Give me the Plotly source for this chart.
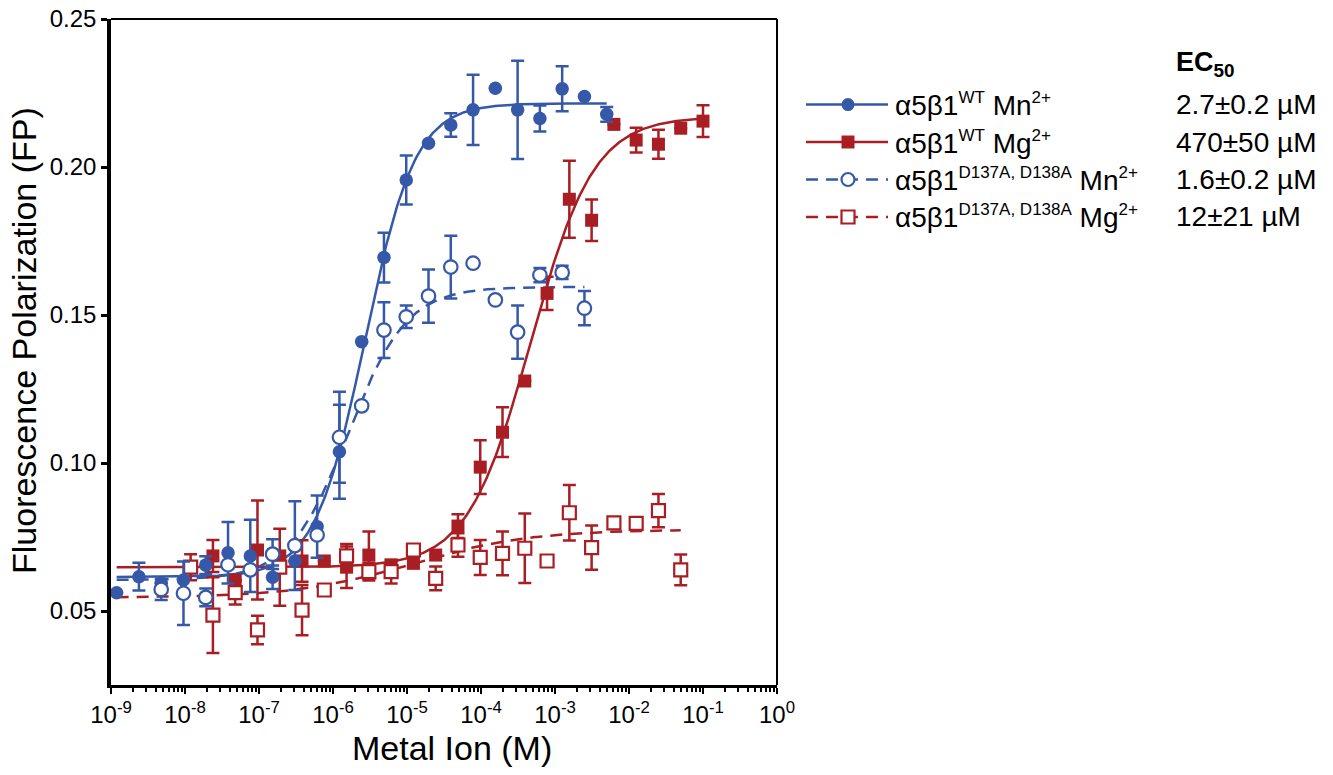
import numpy as np
import plotly.graph_objects as go

BLUE = "#3559A8"
RED = "#A81E23"
FONT = "Liberation Sans, Arial, sans-serif"

# ---------------- data (concentration in M, FP values, SEM) ----------------
conc_wt_mn = [1.192e-9, 2.384e-9, 4.768e-9, 9.537e-9, 1.907e-8, 3.815e-8, 7.629e-8,
              1.526e-7, 3.052e-7, 6.104e-7, 1.221e-6, 2.441e-6, 4.883e-6, 9.766e-6,
              1.953e-5, 3.906e-5, 7.8125e-5, 1.5625e-4, 3.125e-4, 6.25e-4, 1.25e-3,
              2.5e-3, 5.0e-3]
fp_wt_mn = [0.0562, 0.0616, 0.0595, 0.0605, 0.0655, 0.0697, 0.0686, 0.0614, 0.0669,
            0.0785, 0.1038, 0.1410, 0.1694, 0.1956, 0.2080, 0.2142, 0.2193, 0.2266,
            0.2193, 0.2164, 0.2264, 0.2238, 0.2178]
err_wt_mn = [None, 0.0047, None, None, 0.0030, 0.0104, 0.0122, 0.0040, None,
             0.0105, 0.0159, None, 0.0084, 0.0083, None, 0.0040, 0.0119, None,
             0.0166, 0.0044, 0.0076, None, 0.0025]

conc_d_mn = [4.768e-9, 9.537e-9, 1.907e-8, 3.815e-8, 7.629e-8, 1.526e-7, 3.052e-7,
             6.104e-7, 1.221e-6, 2.441e-6, 4.883e-6, 9.766e-6, 1.953e-5, 3.906e-5,
             7.8125e-5, 1.5625e-4, 3.125e-4, 6.25e-4, 1.25e-3, 2.5e-3]
fp_d_mn = [0.0573, 0.0560, 0.0546, 0.0656, 0.0639, 0.0692, 0.0721, 0.0757, 0.1087,
           0.1193, 0.1449, 0.1494, 0.1564, 0.1662, 0.1675, 0.1551, 0.1442, 0.1635,
           0.1644, 0.1523]
err_d_mn = [0.0036, 0.0107, 0.0030, None, None, 0.0050, 0.0150, None, 0.0154,
            None, 0.0094, 0.0038, 0.0090, 0.0106, None, None, 0.0090, 0.0024,
            0.0022, 0.0058]

conc_wt_mg = [1.192e-8, 2.384e-8, 4.768e-8, 9.537e-8, 1.907e-7, 3.815e-7, 7.629e-7,
              1.526e-6, 3.052e-6, 6.104e-6, 1.221e-5, 2.441e-5, 4.883e-5, 9.766e-5,
              1.953e-4, 3.906e-4, 7.8125e-4, 1.5625e-3, 3.125e-3, 6.25e-3, 1.25e-2,
              2.5e-2, 5.0e-2, 1.0e-1]
fp_wt_mg = [0.0648, 0.0686, 0.0605, 0.0706, 0.0686, 0.0669, 0.0669, 0.0648, 0.0689,
            0.0655, 0.0661, 0.0689, 0.0787, 0.0986, 0.1104, 0.1277, 0.1573, 0.1891,
            0.1820, 0.2144, 0.2091, 0.2077, 0.2131, 0.2155]
err_wt_mg = [None, 0.0054, None, 0.0167, None, 0.0070, None, 0.0070, 0.0080,
             None, None, None, 0.0040, 0.0091, 0.0084, None, 0.0056, 0.0130,
             0.0070, None, 0.0042, 0.0049, None, 0.0054]

conc_d_mg = [1.192e-8, 2.384e-8, 4.768e-8, 9.537e-8, 1.907e-7, 3.815e-7, 7.629e-7,
             1.526e-6, 3.052e-6, 6.104e-6, 1.221e-5, 2.441e-5, 4.883e-5, 9.766e-5,
             1.953e-4, 3.906e-4, 7.8125e-4, 1.5625e-3, 3.125e-3, 6.25e-3, 1.25e-2,
             2.5e-2, 5.0e-2]
fp_d_mg = [0.0648, 0.0486, 0.0562, 0.0436, 0.0648, 0.0503, 0.0571, 0.0686, 0.0633,
           0.0633, 0.0706, 0.0610, 0.0723, 0.0681, 0.0695, 0.0712, 0.0669, 0.0832,
           0.0714, 0.0798, 0.0796, 0.0839, 0.0639]
err_d_mg = [0.0044, 0.0128, 0.0040, 0.0048, 0.0130, 0.0085, None, 0.0040, 0.0030,
            0.0040, None, 0.0040, 0.0040, 0.0059, 0.0074, 0.0117, None, 0.0094,
            0.0075, None, None, 0.0056, 0.0052]

# fitted dose-response parameters (bottom, top, EC50 [M], Hill slope, curve end [M])
fit_wt_mn = (0.0615, 0.2215, 2.7e-6, 1.28, 5.0e-3)
fit_wt_mg = (0.0648, 0.2170, 4.7e-4, 1.02, 1.0e-1)
fit_d_mn = (0.0605, 0.1595, 1.6e-6, 1.10, 2.5e-3)
fit_d_mg = (0.0545, 0.0775, 1.2e-5, 0.55, 5.0e-2)
curve_start = 1.192e-9

SUP = "<sup><span style='font-size:17px'>%s</span></sup>"
series_names = ["α5β1" + SUP % "WT" + " Mn" + SUP % "2+",
                "α5β1" + SUP % "WT" + " Mg" + SUP % "2+",
                "α5β1" + SUP % "D137A, D138A" + " Mn" + SUP % "2+",
                "α5β1" + SUP % "D137A, D138A" + " Mg" + SUP % "2+"]
ec50_labels = ["2.7±0.2 µM", "470±50 µM", "1.6±0.2 µM", "12±21 µM"]

x_tickvals = [1e-9, 1e-8, 1e-7, 1e-6, 1e-5, 1e-4, 1e-3, 1e-2, 1e-1, 1e0]
x_ticktext = ["10<sup>-9</sup>", "10<sup>-8</sup>", "10<sup>-7</sup>", "10<sup>-6</sup>",
              "10<sup>-5</sup>", "10<sup>-4</sup>", "10<sup>-3</sup>", "10<sup>-2</sup>",
              "10<sup>-1</sup>", "10<sup>0</sup>"]
y_tickvals = [0.05, 0.10, 0.15, 0.20, 0.25]
y_ticktext = ["0.05", "0.10", "0.15", "0.20", "0.25"]


def hill_curve(params):
    bottom, top, ec50, n, xend = params
    xs = np.logspace(np.log10(curve_start), np.log10(xend), 400)
    ys = bottom + (top - bottom) / (1.0 + (ec50 / xs) ** n)
    return xs, ys


fig = go.Figure()

curves = [(fit_wt_mg, RED, "solid"), (fit_d_mg, RED, "12px,8px"),
          (fit_wt_mn, BLUE, "solid"), (fit_d_mn, BLUE, "12px,8px")]
for params, col, dash in curves:
    xs, ys = hill_curve(params)
    fig.add_trace(go.Scatter(x=xs, y=ys, mode="lines",
                             line=dict(color=col, width=2.5, dash=dash),
                             showlegend=False, hoverinfo="skip"))

points = [
    (conc_wt_mg, fp_wt_mg, err_wt_mg, RED, "square", True),
    (conc_d_mg, fp_d_mg, err_d_mg, RED, "square", False),
    (conc_wt_mn, fp_wt_mn, err_wt_mn, BLUE, "circle", True),
    (conc_d_mn, fp_d_mn, err_d_mn, BLUE, "circle", False),
]
for xs, ys, es, col, sym, filled in points:
    fig.add_trace(go.Scatter(
        x=xs, y=ys, mode="markers",
        marker=dict(symbol=sym, size=13.5 if sym == "circle" else 13,
                    color=col if filled else "white",
                    line=dict(color=col, width=0 if filled else 2.2)),
        error_y=dict(type="data", array=es, visible=True, color=col,
                     thickness=2.5, width=6.5),
        showlegend=False))

# ---------------- custom legend ----------------
PLOT_PX = 666.0  # plot area is 666 px wide and high


def px2paper_x(px):
    return (px - 111) / PLOT_PX


def px2paper_y(py):
    return (685 - py) / PLOT_PX


shapes = []
annotations = []
row_y = [104.6, 142.0, 179.5, 217.0]
legend_styles = [(BLUE, "solid", "circle", True), (RED, "solid", "square", True),
                 (BLUE, "12px,8px", "circle", False), (RED, "12px,8px", "square", False)]
for i, (col, dash, sym, filled) in enumerate(legend_styles):
    yp = px2paper_y(row_y[i])
    shapes.append(dict(type="line", xref="paper", yref="paper",
                       x0=px2paper_x(806), x1=px2paper_x(888), y0=yp, y1=yp,
                       line=dict(color=col, width=2.5, dash=dash)))
    shapes.append(dict(type="circle" if sym == "circle" else "rect",
                       xref="paper", yref="paper",
                       xsizemode="pixel", ysizemode="pixel",
                       xanchor=px2paper_x(848), yanchor=yp,
                       x0=-6.5, x1=6.5, y0=-6.5, y1=6.5,
                       fillcolor=col if filled else "white",
                       line=dict(color=col, width=0 if filled else 2.2)))
    annotations.append(dict(xref="paper", yref="paper", x=px2paper_x(893), y=yp,
                            text=series_names[i], showarrow=False,
                            xanchor="left", yanchor="middle",
                            font=dict(family=FONT, size=28, color="black")))
    annotations.append(dict(xref="paper", yref="paper", x=px2paper_x(1174), y=yp,
                            text=ec50_labels[i], showarrow=False,
                            xanchor="left", yanchor="middle",
                            font=dict(family=FONT, size=28, color="black")))

annotations.append(dict(xref="paper", yref="paper", x=px2paper_x(1174), y=px2paper_y(64),
                        text="<b>EC<sub>50</sub></b>", showarrow=False,
                        xanchor="left", yanchor="middle",
                        font=dict(family=FONT, size=27, color="black")))

# axis titles
annotations.append(dict(xref="paper", yref="paper", x=px2paper_x(452), y=px2paper_y(748),
                        text="Metal Ion (M)", showarrow=False,
                        xanchor="center", yanchor="middle",
                        font=dict(family=FONT, size=34, color="black")))
annotations.append(dict(xref="paper", yref="paper", x=px2paper_x(24), y=px2paper_y(341),
                        text="Fluorescence Polarization (FP)", showarrow=False,
                        textangle=-90, xanchor="center", yanchor="middle",
                        font=dict(family=FONT, size=34, color="black")))

# top and right frame lines
shapes.append(dict(type="line", xref="x domain", yref="y domain", x0=0, x1=1, y0=1, y1=1,
                   line=dict(color="black", width=2)))
shapes.append(dict(type="line", xref="x domain", yref="y domain", x0=1, x1=1, y0=0, y1=1,
                   line=dict(color="black", width=2)))

fig.update_layout(
    width=1333, height=775,
    margin=dict(l=111, r=556, t=19, b=90, autoexpand=False),
    plot_bgcolor="white", paper_bgcolor="white",
    font=dict(family=FONT, color="black"),
    shapes=shapes, annotations=annotations,
    showlegend=False,
)
fig.update_xaxes(
    type="log", range=[-9, 0], tickvals=x_tickvals, ticktext=x_ticktext,
    ticks="outside", ticklen=6, tickwidth=2, tickcolor="black",
    showline=True, linewidth=3, linecolor="black",
    showgrid=False, zeroline=False, automargin=False,
    tickfont=dict(family=FONT, size=24, color="black"),
    minor=dict(ticks="outside", ticklen=4, tickwidth=1.5, tickcolor="black",
               dtick="D1", showgrid=False),
)
fig.update_yaxes(
    range=[0.025, 0.25], tickvals=y_tickvals, ticktext=y_ticktext,
    ticks="outside", ticklen=6, tickwidth=3, tickcolor="black",
    showline=True, linewidth=3.5, linecolor="black",
    showgrid=False, zeroline=False, automargin=False,
    tickfont=dict(family=FONT, size=24, color="black"),
)

fig.write_html("out.html")
